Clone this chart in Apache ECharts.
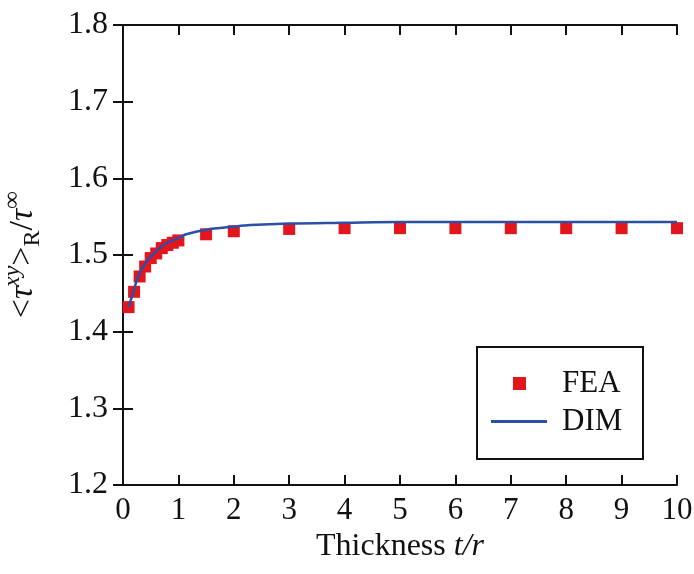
<!DOCTYPE html>
<html>
<head>
<meta charset="utf-8">
<script src="https://cdn.jsdelivr.net/npm/echarts@6/dist/echarts.min.js"></script>
<style>html,body{margin:0;padding:0;background:#fff;}#c{width:694px;height:574px;}</style>
</head>
<body>
<div id="c"></div>
<script>
// ---- data ----
const feaX = [0.1, 0.2, 0.3, 0.4, 0.5, 0.6, 0.7, 0.8, 0.9, 1.0, 1.5, 2, 3, 4, 5, 6, 7, 8, 9, 10];
const feaY = [1.432, 1.452, 1.472, 1.485, 1.496, 1.502, 1.509, 1.513, 1.516, 1.519, 1.527, 1.531, 1.534, 1.535, 1.535, 1.535, 1.535, 1.535, 1.535, 1.535];
const dimX = [0.1, 0.17, 0.24, 0.3, 0.42, 0.5, 0.66, 0.8, 1.0, 1.14, 1.5, 2, 2.3, 3, 4, 5, 6, 7, 8, 9, 10];
const dimY = [1.432, 1.448, 1.465, 1.476, 1.491, 1.498, 1.509, 1.516, 1.522, 1.527, 1.533, 1.537, 1.539, 1.541, 1.542, 1.543, 1.543, 1.543, 1.543, 1.543, 1.543];
const xTicks = [0, 1, 2, 3, 4, 5, 6, 7, 8, 9, 10];
const yTicks = ['1.2', '1.3', '1.4', '1.5', '1.6', '1.7', '1.8'];

const FONT = 'Liberation Serif';
const INK = '#111';
const axisLine = { show: true, lineStyle: { color: INK, width: 2 } };
const tick = { show: true, inside: true, length: 10, lineStyle: { color: INK, width: 2 } };

const chart = echarts.init(document.getElementById('c'), null, { renderer: 'canvas' });
chart.setOption({
  backgroundColor: '#fff',
  animation: false,
  grid: { left: 123, right: 17, top: 25, bottom: 89, containLabel: false, outerBoundsMode: 'none' },
  xAxis: [{
    type: 'value', min: xTicks[0], max: xTicks[xTicks.length - 1], interval: 1,
    axisLine, axisTick: tick, splitLine: { show: false },
    axisLabel: { color: INK, fontFamily: FONT, fontSize: 31, margin: 10 },
    name: 'Thickness {i|t/r}', nameLocation: 'middle', nameGap: 46,
    nameTextStyle: { color: INK, fontFamily: FONT, fontSize: 32,
      rich: { i: { fontStyle: 'italic', fontFamily: FONT, fontSize: 32, color: INK } } }
  }, {
    type: 'value', position: 'top', min: xTicks[0], max: xTicks[xTicks.length - 1], interval: 1,
    axisLine, axisTick: tick, axisLabel: { show: false }, splitLine: { show: false }
  }],
  yAxis: [{
    type: 'value', min: +yTicks[0], max: +yTicks[yTicks.length - 1], interval: 0.1,
    axisLine, axisTick: tick, splitLine: { show: false },
    axisLabel: { color: INK, fontFamily: FONT, fontSize: 32, margin: 15, formatter: v => v.toFixed(1) },
    name: '{n|<}{i|τ}{sup|xy}{n|>}{sub|R}{n|/}{i|τ}{sup|∞}', nameLocation: 'middle', nameGap: 78, nameRotate: 90,
    nameTextStyle: {
      color: INK, fontFamily: FONT, fontSize: 34,
      rich: {
        n: { fontFamily: FONT, fontSize: 34, color: INK, lineHeight: 44, verticalAlign: 'middle' },
        i: { fontFamily: FONT, fontSize: 34, fontStyle: 'italic', color: INK, lineHeight: 44, verticalAlign: 'middle' },
        sup: { fontFamily: FONT, fontSize: 24, fontStyle: 'italic', color: INK, lineHeight: 24, verticalAlign: 'top' },
        sub: { fontFamily: FONT, fontSize: 24, color: INK, lineHeight: 24, verticalAlign: 'bottom' }
      }
    }
  }, {
    type: 'value', position: 'right', min: +yTicks[0], max: +yTicks[yTicks.length - 1], interval: 0.1,
    axisLine, axisTick: tick, axisLabel: { show: false }, splitLine: { show: false }
  }],
  legend: [{
    data: ['FEA'], left: 513, top: 367, padding: 0, itemWidth: 13, itemHeight: 13,
    textStyle: { color: INK, fontFamily: FONT, fontSize: 31, lineHeight: 33, padding: [0, 0, 0, 31] }
  }, {
    data: [{ name: 'DIM', icon: 'rect' }], left: 491, top: 405, padding: 0, itemWidth: 56, itemHeight: 3,
    itemStyle: { color: '#2a4fa6' },
    textStyle: { color: INK, fontFamily: FONT, fontSize: 31, lineHeight: 33, padding: [0, 0, 0, 10] }
  }],
  graphic: [{
    type: 'rect', left: 476, top: 346, z: 0,
    shape: { width: 166, height: 112 },
    style: { fill: '#fff', stroke: INK, lineWidth: 2 }
  }],
  series: [{
    name: 'FEA', type: 'scatter', symbol: 'rect', symbolSize: 12,
    itemStyle: { color: '#e3161e', opacity: 1 },
    data: feaX.map((x, i) => [x, feaY[i]]), z: 2
  }, {
    name: 'DIM', type: 'line', symbol: 'none', smooth: 0.3,
    lineStyle: { color: '#2a4fa6', width: 2.5 }, itemStyle: { color: '#2a4fa6' },
    data: dimX.map((x, i) => [x, dimY[i]]), z: 3
  }]
});
</script>
</body>
</html>
